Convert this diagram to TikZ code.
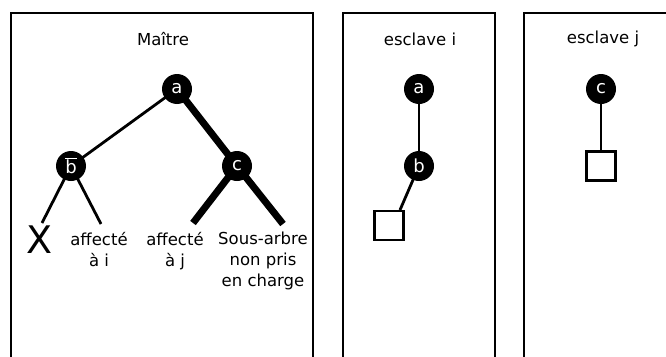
\documentclass[tikz,border=0pt]{standalone}
\usepackage{fontspec}
\setmainfont{DejaVu Sans}
\usetikzlibrary{calc}
\pgfdeclarelayer{bg}
\pgfsetlayers{bg,main}
\begin{document}
\begin{tikzpicture}[x=1pt,y=-1pt,
  panel/.style={draw, line width=2.8pt},
  dot/.style={circle, fill=black, text=white, minimum size=30pt, inner sep=0pt, font=\fontsize{18}{20}\selectfont},
  leaf/.style={draw, line width=2.8pt, minimum size=29pt, inner sep=0pt},
  thinedge/.style={line width=2.8pt},
  heavyedge/.style={line width=7pt},
  lbl/.style={align=center, font=\fontsize{16.5}{21}\selectfont, inner sep=0pt},
  ttl/.style={font=\fontsize{16.5}{20}\selectfont, inner sep=0pt}]
\useasboundingbox (0,0) rectangle (666,356);
\clip (0,0) rectangle (666,356);
% panels
\draw[panel] (11,13) rectangle (313,420);
\draw[panel] (343,13) rectangle (495,420);
\draw[panel] (524,13) rectangle (720,420);
% titles
\node[ttl] (tm) at (163,39) {Maître};
\node[ttl] (ti) at (420,39) {esclave i};
\node[ttl] (tj) at (603,39) {esclave j};
% master tree
\node[dot] (ma) at (177,89) {a};
\node[dot] (mb) at (71,166) {$\overline{\mbox{b}}$};
\node[dot] (mc) at (237,166) {c};
\node[inner sep=0pt, font=\fontsize{38}{38}\selectfont] (mx) at (40,240) {X};
\node[lbl, anchor=north] (li) at (99,232) {affecté\\à i};
\node[lbl, anchor=north] (lj) at (175,232) {affecté\\à j};
\node[lbl, anchor=north] (ls) at (263,232) {Sous-arbre\\non pris\\en charge};
\coordinate (ex) at (42,223);
\coordinate (ei) at (101,224);
\coordinate (ej) at (193,223);
\coordinate (es) at (283,224);
\begin{pgfonlayer}{bg}
\draw[thinedge] (ma.center) -- (mb.center);
\draw[heavyedge] (ma.center) -- (mc.center);
\draw[thinedge] (mb.center) -- (ex);
\draw[thinedge] (mb.center) -- (ei);
\draw[heavyedge] (mc.center) -- (ej);
\draw[heavyedge] (mc.center) -- (es);
\end{pgfonlayer}
% slave i
\node[dot] (ia) at (419,89) {a};
\node[dot] (ib) at (419,166) {b};
\node[leaf] (isq) at (389,225.5) {};
\coordinate (eb) at (400,210);
% slave j
\node[dot] (jc) at (601,89) {c};
\node[leaf] (jsq) at (601,166) {};
\begin{pgfonlayer}{bg}
\draw[thinedge] (ia.center) -- (ib.center);
\draw[thinedge] (ib.center) -- (eb);
\draw[thinedge] (jc.center) -- (jsq.north);
\end{pgfonlayer}
\end{tikzpicture}
\end{document}
